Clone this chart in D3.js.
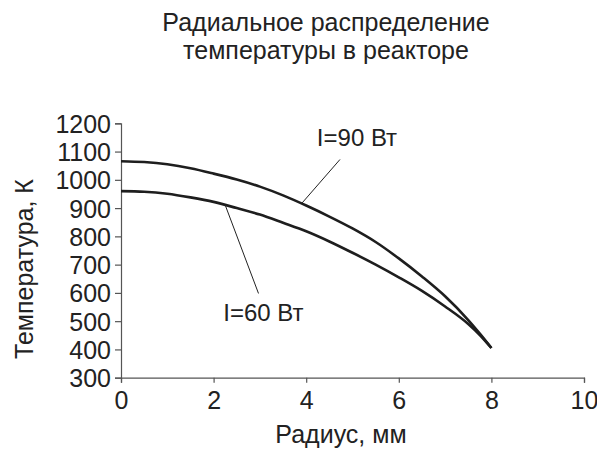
<!DOCTYPE html>
<html>
<head>
<meta charset="utf-8">
<script src="https://cdn.jsdelivr.net/npm/d3@7"></script>
<style>
  body { margin: 0; background: #fff; }
  text { font-family: "Liberation Sans", Arial, sans-serif; fill: #222; }
</style>
</head>
<body>
<div id="chart"></div>
<script>
// data
const radius = [0, 0.5, 1, 1.5, 2, 2.5, 3, 3.5, 4, 4.5, 5, 5.5, 6, 6.5, 7, 7.5, 7.75, 8];
const temp90 = [1066, 1063, 1055, 1041, 1022, 1001, 976, 945, 909, 870, 828, 780, 722, 658, 588, 504, 456, 405];
const temp60 = [960, 958, 951, 938, 922, 900, 877, 848, 818, 782, 742, 700, 655, 607, 552, 490, 451, 405];
const xTicks = [0, 2, 4, 6, 8, 10];
const yTicks = [300, 400, 500, 600, 700, 800, 900, 1000, 1100, 1200];
const titleLines = ['Радиальное распределение', 'температуры в реакторе'];
const xTitle = 'Радиус, мм';
const yTitle = 'Температура, К';
// label text, label anchor [r, T], leader from [r, T] to [r, T]
const labels = [
    { text: 'I=90 Вт', at: [4.23, 1120], from: [3.9, 916], to: [4.73, 1072] },
    { text: 'I=60 Вт', at: [2.21, 502], from: [2.25, 911], to: [2.97, 598] }
];

const width = 597;
const height = 450;

const svg = d3.select('#chart')
    .append('svg')
    .attr('width', width)
    .attr('height', height);

const x = d3.scaleLinear()
    .domain([0, 10])
    .range([121, 584]);

const y = d3.scaleLinear()
    .domain([300, 1200])
    .range([377.7, 123.3]);

// title
svg.append('text')
    .attr('text-anchor', 'middle')
    .attr('font-size', 25)
    .selectAll('tspan')
    .data(titleLines)
    .enter()
    .append('tspan')
    .attr('x', 326)
    .attr('y', (d, i) => 31 + i * 28)
    .text((d) => d);

// axes
const xAxis = d3.axisBottom(x).tickValues(xTicks).tickSize(5).tickPadding(9).tickFormat(d3.format('d'));
const gx = svg.append('g')
    .attr('transform', `translate(0, ${y(300)})`)
    .call(xAxis);

const yAxis = d3.axisLeft(y).tickValues(yTicks).tickSize(6).tickPadding(4).tickFormat(d3.format('d'));
const gy = svg.append('g')
    .attr('transform', `translate(${x(0)}, 0)`)
    .call(yAxis);

[gx, gy].forEach((g) => {
    g.select('.domain').attr('stroke', '#555').attr('stroke-width', 1.2);
    g.selectAll('.tick line').attr('stroke', '#555').attr('stroke-width', 1.2);
    g.selectAll('.tick text')
        .attr('font-family', '"Liberation Sans", Arial, sans-serif')
        .attr('font-size', 25)
        .attr('fill', '#222');
});
gy.selectAll('.tick text').attr('dy', '0.36em');

svg.append('text')
    .attr('x', 341)
    .attr('y', 443)
    .attr('text-anchor', 'middle')
    .attr('font-size', 25)
    .text(xTitle);

svg.append('text')
    .attr('transform', `translate(33, 269) rotate(-90)`)
    .attr('text-anchor', 'middle')
    .attr('font-size', 25)
    .text(yTitle);

// curves
const line = d3.line()
    .x((d) => x(d[0]))
    .y((d) => y(d[1]))
    .curve(d3.curveMonotoneX);

[temp90, temp60].forEach((series) => {
    svg.append('path')
        .datum(radius.map((r, i) => [r, series[i]]))
        .attr('fill', 'none')
        .attr('stroke', '#1e1e1e')
        .attr('stroke-width', 2.6)
        .attr('d', line);
});

// labels with leader lines
labels.forEach((l) => {
    svg.append('line')
        .attr('x1', x(l.from[0]))
        .attr('y1', y(l.from[1]))
        .attr('x2', x(l.to[0]))
        .attr('y2', y(l.to[1]))
        .attr('stroke', '#222')
        .attr('stroke-width', 1);
    svg.append('text')
        .attr('x', x(l.at[0]))
        .attr('y', y(l.at[1]))
        .attr('font-size', 24)
        .text(l.text);
});
</script>
</body>
</html>
